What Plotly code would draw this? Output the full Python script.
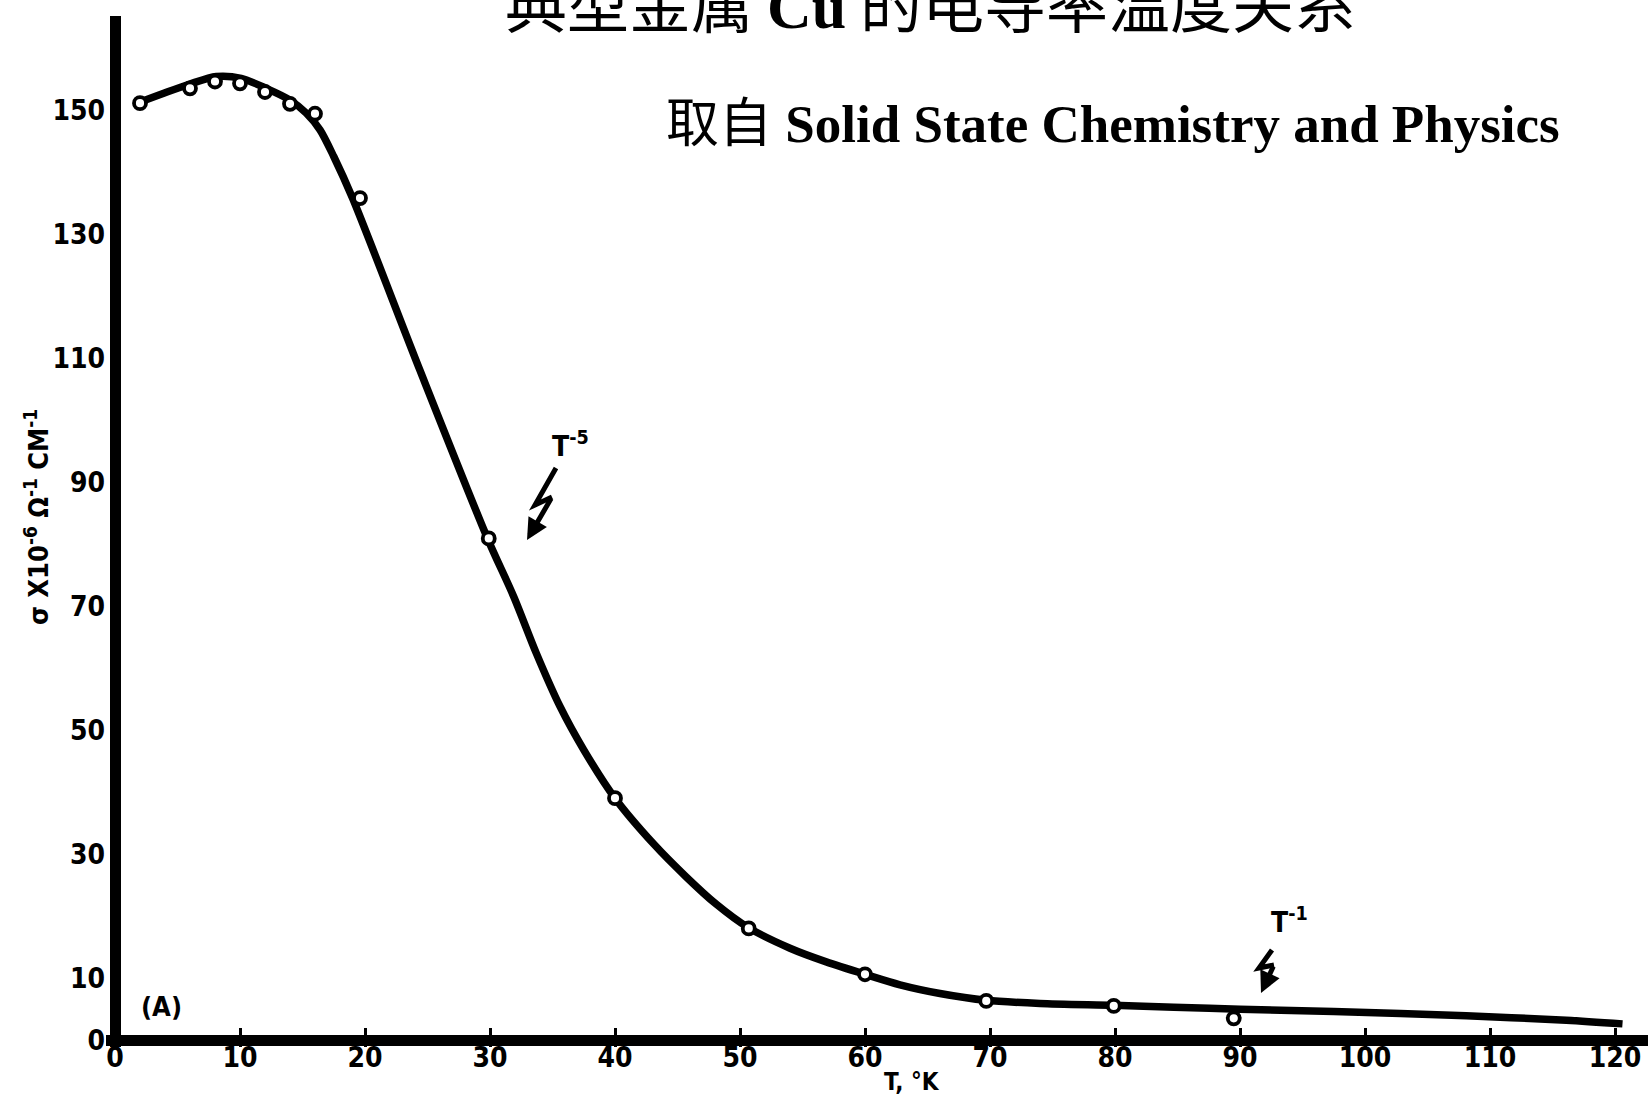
import plotly.graph_objects as go

# ---------------- data ----------------
# measured points (open circles)
marker_T = [2, 6, 8, 10, 12, 14, 16, 19.6, 29.9, 40.0, 50.7, 60.0, 69.7, 79.9, 89.5]
marker_sigma = [151.1, 153.5, 154.6, 154.3, 152.9, 151.0, 149.4, 135.8, 80.9, 39.0, 18.0, 10.6, 6.3, 5.5, 3.5]

# hand-drawn smooth curve, read along its path
curve_T = [1.9, 3.9, 6.0, 8.1, 10.1, 12.1, 14.0, 15.3, 16.4, 17.5, 19.0, 24.4, 29.8,
           31.9, 33.7, 35.6, 37.5, 40.0, 43.1, 45.7, 48.1, 50.6, 54.0, 56.9, 60.0,
           62.8, 66.0, 69.7, 74.0, 79.9, 84.7, 90.0, 97.5, 108.1, 116.1, 120.6]
curve_sigma = [151.2, 152.7, 154.2, 155.4, 155.1, 153.5, 151.6, 149.5, 146.8, 142.5, 135.8, 108.0, 80.9,
               71.5, 62.4, 53.8, 46.8, 39.0, 31.6, 26.3, 21.9, 18.2, 14.8, 12.6, 10.6,
               8.9, 7.5, 6.4, 5.9, 5.6, 5.3, 4.95, 4.6, 3.9, 3.2, 2.6]

x_tickvals = [0, 10, 20, 30, 40, 50, 60, 70, 80, 90, 100, 110, 120]
x_ticktext = ["0", "10", "20", "30", "40", "50", "60", "70", "80", "90", "100", "110", "120"]
y_tickvals = [0, 10, 30, 50, 70, 90, 110, 130, 150]
y_ticktext = ["0", "10", "30", "50", "70", "90", "110", "130", "150"]

title_text = '典型金属 <span style="font-family:Liberation Serif;font-weight:bold">Cu</span> 的电导率温度关系'
subtitle_text = '取自 <span style="font-family:Liberation Serif;font-weight:bold">Solid State Chemistry and Physics</span>'
ylabel_text = "σ X10<sup>-6</sup> Ω<sup>-1</sup> CM<sup>-1</sup>"
xlabel_text = "T, °K"

# ---------------- geometry ----------------
W, H = 1648, 1098
L, R, T, B = 106, 0, 16, 51
X0_PX, PX_PER_T = 115.0, 12.5
Y0_PX, PX_PER_S = 1040.0, 6.2
plot_w = W - L - R
plot_h = H - T - B
x_range = [-(X0_PX - L) / PX_PER_T, (W - R - X0_PX) / PX_PER_T]
y_range = [-((H - B) - Y0_PX) / PX_PER_S, (Y0_PX - T) / PX_PER_S]


def px2x(px):
    return (px - X0_PX) / PX_PER_T


def py2y(py):
    return (Y0_PX - py) / PX_PER_S


def paper_x(px):
    return (px - L) / plot_w


def paper_y(py):
    return ((H - B) - py) / plot_h


LETTER = "Liberation Sans Narrow, DejaVu Sans Condensed, Arial Narrow, sans-serif"

fig = go.Figure()
fig.add_trace(go.Scatter(
    x=curve_T, y=curve_sigma, mode="lines",
    line=dict(color="black", width=7.5, shape="spline", smoothing=0.8),
    hoverinfo="skip", showlegend=False, cliponaxis=False,
))
fig.add_trace(go.Scatter(
    x=marker_T, y=marker_sigma, mode="markers",
    marker=dict(symbol="circle", size=12, color="white",
                line=dict(color="black", width=3.8)),
    showlegend=False, cliponaxis=False,
))

shapes = []
annotations = []

# zig-zag pointers
for pts, tip, tail in [
    ([(556, 468), (535, 505), (552, 497)], (527, 540), (552, 497)),
    ([(1272, 950), (1259, 968), (1274, 965)], (1261, 993), (1274, 965)),
]:
    path = "M " + " L ".join(f"{px2x(a):.3f},{py2y(b):.3f}" for a, b in pts)
    shapes.append(dict(type="path", xref="x", yref="y", path=path,
                       line=dict(color="black", width=5)))
    annotations.append(dict(x=px2x(tip[0]), y=py2y(tip[1]), xref="x", yref="y",
                            ax=tail[0] - tip[0], ay=tail[1] - tip[1],
                            text="", showarrow=True, arrowhead=2, arrowsize=0.85,
                            arrowwidth=5, arrowcolor="black", standoff=0))

annotations += [
    dict(text=title_text, x=paper_x(930), y=paper_y(1), xref="paper", yref="paper",
         showarrow=False, xanchor="center", yanchor="middle",
         font=dict(family="Noto Sans CJK SC", size=62, color="black")),
    dict(text=subtitle_text, x=paper_x(1113), y=paper_y(124), xref="paper", yref="paper",
         showarrow=False, xanchor="center", yanchor="middle",
         font=dict(family="Liberation Serif, Noto Sans CJK SC", size=53, color="black")),
    dict(text=ylabel_text, x=paper_x(36), y=paper_y(517), xref="paper", yref="paper",
         showarrow=False, textangle=-90, xanchor="center", yanchor="middle",
         font=dict(family=LETTER, size=27, color="black", weight="bold")),
    dict(text=xlabel_text, x=paper_x(912), y=paper_y(1082), xref="paper", yref="paper",
         showarrow=False, xanchor="center", yanchor="middle",
         font=dict(family=LETTER, size=24, color="black", weight="bold")),
    dict(text="(A)", x=paper_x(161), y=paper_y(1007), xref="paper", yref="paper",
         showarrow=False, xanchor="center", yanchor="middle",
         font=dict(family=LETTER, size=27, color="black", weight="bold")),
    dict(text="T<sup>-5</sup>", x=paper_x(570), y=paper_y(444), xref="paper", yref="paper",
         showarrow=False, xanchor="center", yanchor="middle",
         font=dict(family=LETTER, size=28, color="black", weight="bold")),
    dict(text="T<sup>-1</sup>", x=paper_x(1289), y=paper_y(920), xref="paper", yref="paper",
         showarrow=False, xanchor="center", yanchor="middle",
         font=dict(family=LETTER, size=28, color="black", weight="bold")),
]

fig.update_layout(
    width=W, height=H,
    margin=dict(l=L, r=R, t=T, b=B, pad=0),
    paper_bgcolor="white", plot_bgcolor="white",
    shapes=shapes, annotations=annotations,
    xaxis=dict(range=x_range, showgrid=False, showline=False,
               zeroline=True, zerolinecolor="black", zerolinewidth=11,
               tickmode="array", tickvals=x_tickvals, ticktext=x_ticktext,
               ticks="inside", ticklen=19, tickwidth=3, tickcolor="black",
               ticklabelstandoff=-9,
               tickfont=dict(family=LETTER, size=28, color="black", weight="bold")),
    yaxis=dict(range=y_range, showgrid=False, showline=False,
               zeroline=True, zerolinecolor="black", zerolinewidth=11,
               tickmode="array", tickvals=y_tickvals, ticktext=y_ticktext,
               ticks="",
               tickfont=dict(family=LETTER, size=28, color="black", weight="bold")),
)

fig.write_html("out.html")
